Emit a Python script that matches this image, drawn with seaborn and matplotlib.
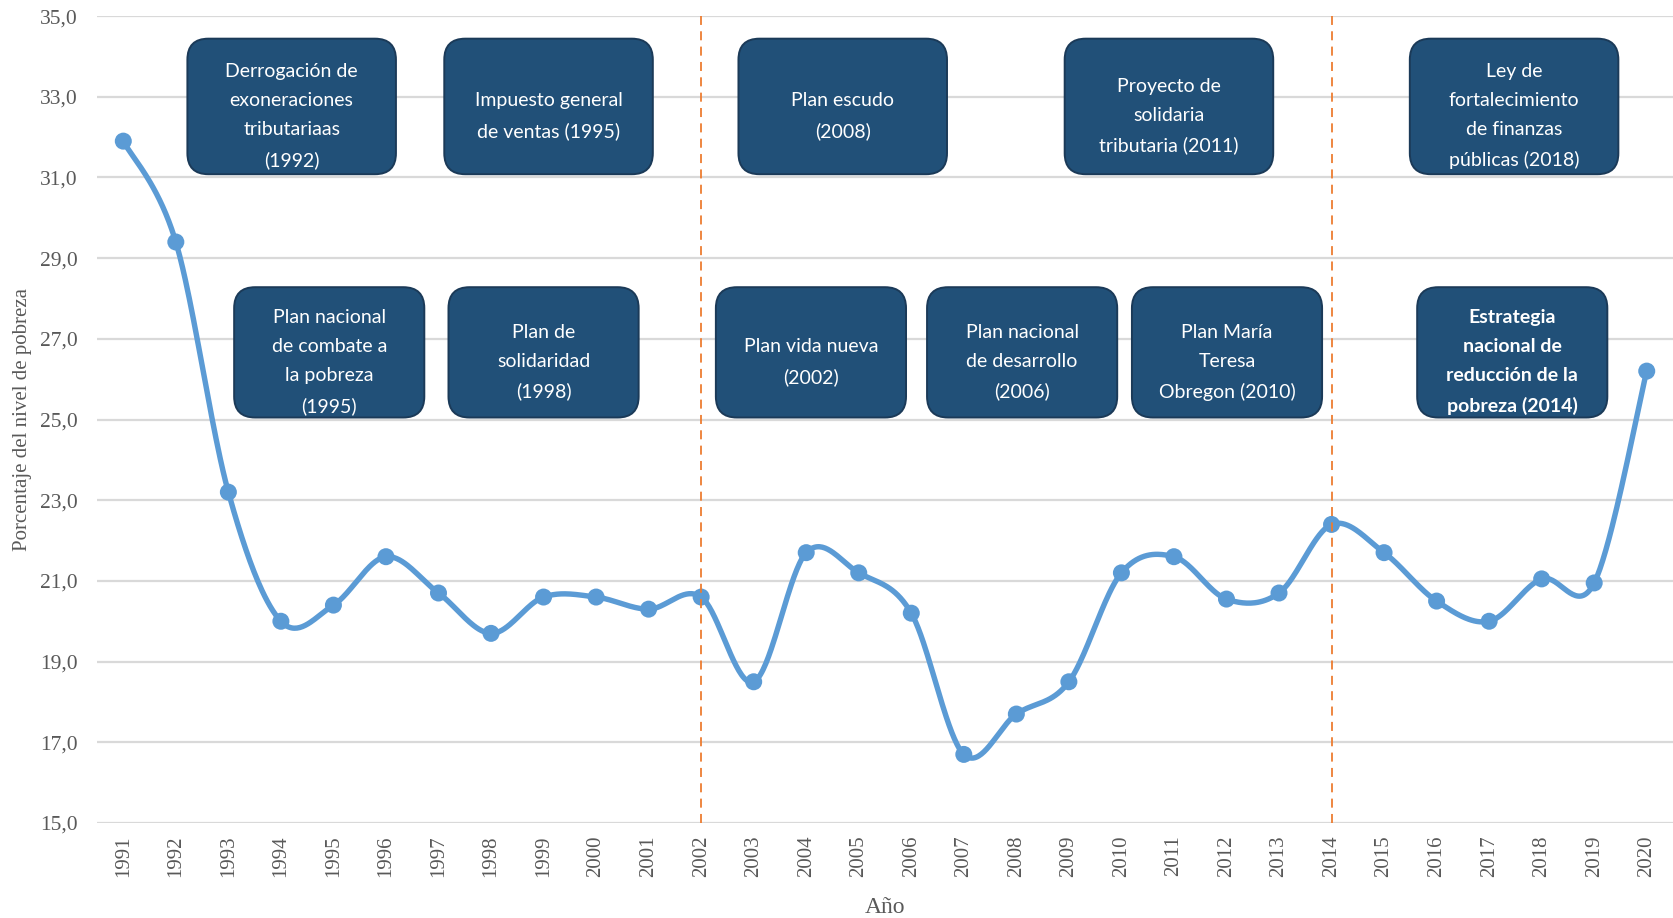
import numpy as np
import pandas as pd
import seaborn as sns
import matplotlib
matplotlib.use("Agg")
import matplotlib.pyplot as plt
from matplotlib.patches import FancyBboxPatch
from matplotlib.ticker import FuncFormatter

# ---- data -------------------------------------------------------------
years = list(range(1991, 2021))
poverty = [31.9, 29.4, 23.2, 20.0, 20.4, 21.6, 20.7, 19.7, 20.6, 20.6,
           20.3, 20.6, 18.5, 21.7, 21.2, 20.2, 16.7, 17.7, 18.5, 21.2,
           21.6, 20.55, 20.7, 22.4, 21.7, 20.5, 20.0, 21.05, 20.95, 26.2]

y_ticks = [15, 17, 19, 21, 23, 25, 27, 29, 31, 33, 35]

period_breaks = [2002, 2014]

policy_labels_top = [
    "Derrogación de\nexoneraciones\ntributariaas\n(1992)",
    "Impuesto general\nde ventas (1995)",
    "Plan escudo\n(2008)",
    "Proyecto de\nsolidaria\ntributaria (2011)",
    "Ley de\nfortalecimiento\nde finanzas\npúblicas (2018)",
]
policy_labels_bottom = [
    "Plan nacional\nde combate a\nla pobreza\n(1995)",
    "Plan de\nsolidaridad\n(1998)",
    "Plan vida nueva\n(2002)",
    "Plan nacional\nde desarrollo\n(2006)",
    "Plan María\nTeresa\nObregon (2010)",
    "Estrategia\nnacional de\nreducción de la\npobreza (2014)",
]

# ---- layout of the policy boxes (x in years, y in axis units) ---------
top_box_x = [1992.22, 1997.11, 2002.71, 2008.92, 2015.49]
top_box_w = 3.97
top_box_y, top_box_h = 31.08, 3.36
bottom_box_x = [1993.11, 1997.19, 2002.28, 2006.30, 2010.20, 2015.63]
bottom_box_w = 3.62
bottom_box_y, bottom_box_h = 25.05, 3.23
bold_bottom = [False, False, False, False, False, True]

LINE_BLUE = "#5B9BD5"
BOX_FILL = "#215078"
BOX_EDGE = "#1B3A58"
ORANGE = "#ED7D31"
GRID = "#D9D9D9"
TICK_GREY = "#595959"


def smooth_curve(x, y, n=40):
    """Cubic Bezier smoothing through every point (spreadsheet style)."""
    x = np.asarray(x, float)
    y = np.asarray(y, float)
    px = np.concatenate([[x[0]], x, [x[-1]]])
    py = np.concatenate([[y[0]], y, [y[-1]]])
    xs, ys = [], []
    t = np.linspace(0, 1, n)[:, None]
    for i in range(1, len(px) - 2):
        p0 = np.array([px[i], py[i]])
        p3 = np.array([px[i + 1], py[i + 1]])
        c1 = p0 + (np.array([px[i + 1], py[i + 1]]) - np.array([px[i - 1], py[i - 1]])) / 6
        c2 = p3 - (np.array([px[i + 2], py[i + 2]]) - np.array([px[i], py[i]])) / 6
        pts = ((1 - t) ** 3) * p0 + 3 * ((1 - t) ** 2) * t * c1 + 3 * (1 - t) * t ** 2 * c2 + t ** 3 * p3
        if i > 1:
            pts = pts[1:]
        xs.append(pts[:, 0])
        ys.append(pts[:, 1])
    return np.concatenate(xs), np.concatenate(ys)


sns.set_theme(style="white")
plt.rcParams["font.family"] = ["Liberation Serif", "DejaVu Serif"]

fig = plt.figure(figsize=(16.73, 9.18), dpi=100)
ax = fig.add_axes([0.058, 0.1035, 0.942, 0.879])

xlim = (1990.5, 2020.5)
ylim = (15, 35)
ax.set_xlim(*xlim)
ax.set_ylim(*ylim)

# grid
ax.set_yticks(y_ticks)
ax.grid(axis="y", color=GRID, linewidth=1.6, zorder=0)
ax.grid(axis="x", visible=False)
for s in ax.spines.values():
    s.set_visible(False)

# smooth line + markers
sx, sy = smooth_curve(years, poverty)
curve = pd.DataFrame({"Año": sx, "valor": sy})
points = pd.DataFrame({"Año": years, "valor": poverty})
sns.lineplot(data=curve, x="Año", y="valor", sort=False, color=LINE_BLUE,
             linewidth=3.9, ax=ax, zorder=3, solid_capstyle="round")
sns.scatterplot(data=points, x="Año", y="valor", color=LINE_BLUE, s=150,
                edgecolor="none", ax=ax, zorder=4)

# period separators
for b in period_breaks:
    ax.axvline(b, color=ORANGE, linewidth=1.3, linestyle=(0, (5, 3.5)), zorder=5)

# policy boxes
fig.canvas.draw()
bbox = ax.get_window_extent()
aspect = ((ylim[1] - ylim[0]) / bbox.height) / ((xlim[1] - xlim[0]) / bbox.width)
radius = 0.40
box_font = ["Lato", "DejaVu Sans"]


def draw_box(x0, y0, w, h, text, bold=False):
    patch = FancyBboxPatch((x0, y0), w, h,
                           boxstyle=f"round,pad=0,rounding_size={radius}",
                           mutation_aspect=aspect,
                           facecolor=BOX_FILL, edgecolor=BOX_EDGE,
                           linewidth=1.4, zorder=6)
    ax.add_patch(patch)
    ax.text(x0 + w / 2, y0 + h / 2 - 0.24, text, ha="center", va="center",
            color="white", fontsize=14, family=box_font,
            fontweight="bold" if bold else "normal",
            linespacing=1.86, zorder=7)


for x0, lab in zip(top_box_x, policy_labels_top):
    draw_box(x0, top_box_y, top_box_w, top_box_h, lab)
for x0, lab, bd in zip(bottom_box_x, policy_labels_bottom, bold_bottom):
    draw_box(x0, bottom_box_y, bottom_box_w, bottom_box_h, lab, bold=bd)

# axes text
ax.set_xticks(years)
ax.set_xticklabels([str(y) for y in years], rotation=90)
ax.yaxis.set_major_formatter(FuncFormatter(lambda v, p: f"{v:.1f}".replace(".", ",")))
ax.tick_params(axis="x", labelsize=15, colors=TICK_GREY, length=0, pad=9)
ax.tick_params(axis="y", labelsize=15.5, colors=TICK_GREY, length=0, pad=14)

ax.set_xlabel("Año", fontsize=17, color=TICK_GREY)
ax.set_ylabel("Porcentaje del nivel de pobreza", fontsize=15, color=TICK_GREY)
ax.xaxis.set_label_coords(0.5, -0.092)
ax.yaxis.set_label_coords(-0.041, 0.5)

fig.savefig("out.png", dpi=100, facecolor="white")
